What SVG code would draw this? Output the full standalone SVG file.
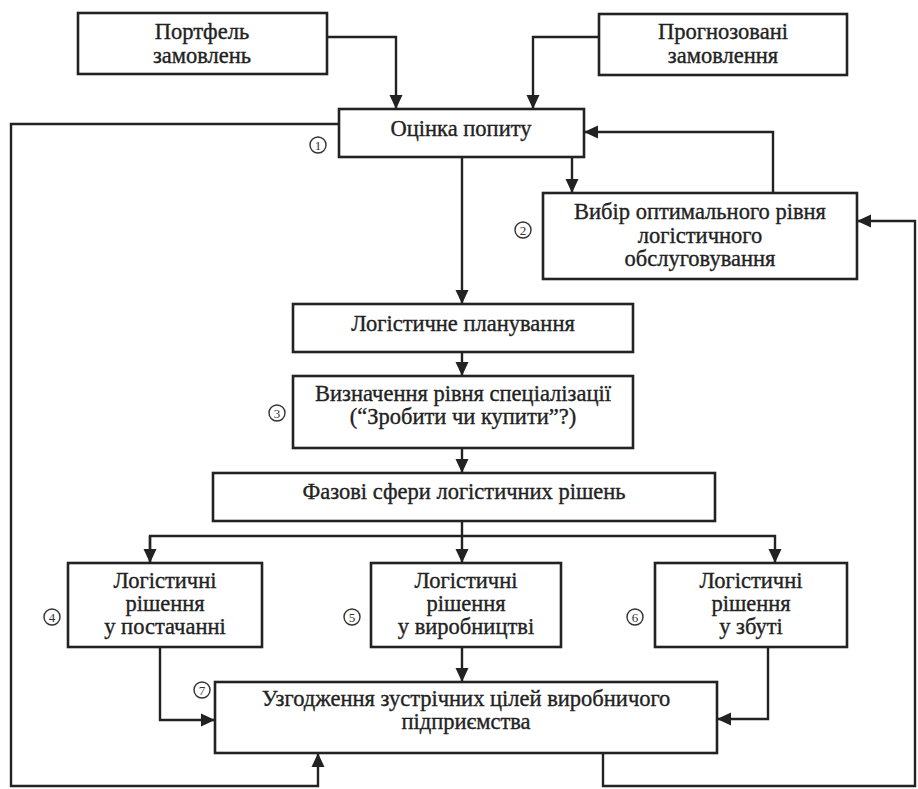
<svg xmlns="http://www.w3.org/2000/svg" width="918" height="789" viewBox="0 0 918 789">
<defs>
<style>
.box{fill:#fff;stroke:#222;stroke-width:2.6}
.t{font-family:"Liberation Serif","Times New Roman",serif;font-size:22.5px;fill:#222;stroke:#222;stroke-width:0.35;text-anchor:middle}
.c{fill:none;stroke:#222;stroke-width:2.4}
.n circle{fill:none;stroke:#333;stroke-width:1.4}
.n text{font-family:"Liberation Serif",serif;font-size:13px;fill:#333;text-anchor:middle}
</style>
<marker id="a" viewBox="0 0 14 14" refX="13" refY="7" markerWidth="14" markerHeight="14" markerUnits="userSpaceOnUse" orient="auto">
<path d="M0,0.5 L14,7 L0,13.5 Z" fill="#222"/>
</marker>
</defs>
<rect width="918" height="789" fill="#fff"/>
<g id="connectors">
<path class="c" d="M327,37 H396 V108" marker-end="url(#a)"/>
<path class="c" d="M599,37 H533 V108" marker-end="url(#a)"/>
<path class="c" d="M572,157 V192" marker-end="url(#a)"/>
<path class="c" d="M773,193 V132 H585" marker-end="url(#a)"/>
<path class="c" d="M462,157 V303" marker-end="url(#a)"/>
<path class="c" d="M462,352 V375" marker-end="url(#a)"/>
<path class="c" d="M462,448 V472" marker-end="url(#a)"/>
<path class="c" d="M462,521 V536"/>
<path class="c" d="M150,562 V536 H775 V562" marker-end="url(#a)"/>
<path class="c" d="M150,536 V562" marker-end="url(#a)"/>
<path class="c" d="M462,536 V562" marker-end="url(#a)"/>
<path class="c" d="M160,647 V720 H214" marker-end="url(#a)"/>
<path class="c" d="M462,647 V681" marker-end="url(#a)"/>
<path class="c" d="M768,647 V719 H718" marker-end="url(#a)"/>
<path class="c" d="M339,124 H11 V786 H318 V754" marker-end="url(#a)"/>
<path class="c" d="M603,753 V786 H915 V221 H858" marker-end="url(#a)"/>
</g>
<g id="n-portfolio"><rect class="box" x="78" y="13" width="249" height="61"/><text class="t" x="202" y="39">Портфель</text><text class="t" x="202" y="63">замовлень</text></g>
<g id="n-forecast"><rect class="box" x="599" y="14" width="248" height="61"/><text class="t" x="723" y="39">Прогнозовані</text><text class="t" x="723" y="63">замовлення</text></g>
<g id="n-demand"><rect class="box" x="339" y="109" width="245" height="48"/><text class="t" x="461" y="136">Оцінка попиту</text></g>
<g id="n-service"><rect class="box" x="543" y="193" width="314" height="86"/><text class="t" x="700" y="219">Вибір оптимального рівня</text><text class="t" x="700" y="243">логістичного</text><text class="t" x="700" y="266">обслуговування</text></g>
<g id="n-planning"><rect class="box" x="293" y="304" width="340" height="48"/><text class="t" x="463" y="331">Логістичне планування</text></g>
<g id="n-special"><rect class="box" x="293" y="376" width="340" height="72"/><text class="t" x="463" y="401">Визначення рівня спеціалізації</text><text class="t" x="463" y="424">(“Зробити чи купити”?)</text></g>
<g id="n-phase"><rect class="box" x="213" y="473" width="502" height="48"/><text class="t" x="464" y="499">Фазові сфери логістичних рішень</text></g>
<g id="n-supply"><rect class="box" x="68" y="563" width="194" height="84"/><text class="t" x="165" y="588">Логістичні</text><text class="t" x="165" y="611">рішення</text><text class="t" x="165" y="634">у постачанні</text></g>
<g id="n-production"><rect class="box" x="371" y="563" width="190" height="84"/><text class="t" x="466" y="588">Логістичні</text><text class="t" x="466" y="611">рішення</text><text class="t" x="466" y="634">у виробництві</text></g>
<g id="n-sales"><rect class="box" x="655" y="563" width="192" height="84"/><text class="t" x="751" y="588">Логістичні</text><text class="t" x="751" y="611">рішення</text><text class="t" x="751" y="634">у збуті</text></g>
<g id="n-coord"><rect class="box" x="215" y="682" width="502" height="71"/><text class="t" x="466" y="706">Узгодження зустрічних цілей виробничого</text><text class="t" x="466" y="729">підприємства</text></g>
<g id="labels">
<g class="n"><circle cx="318" cy="145" r="8"/><text x="318" y="149.5">1</text></g>
<g class="n"><circle cx="523" cy="230" r="8"/><text x="523" y="234.5">2</text></g>
<g class="n"><circle cx="277" cy="413" r="8"/><text x="277" y="417.5">3</text></g>
<g class="n"><circle cx="52" cy="617" r="8"/><text x="52" y="621.5">4</text></g>
<g class="n"><circle cx="352" cy="617" r="8"/><text x="352" y="621.5">5</text></g>
<g class="n"><circle cx="635" cy="617" r="8"/><text x="635" y="621.5">6</text></g>
<g class="n"><circle cx="202" cy="690" r="8"/><text x="202" y="694.5">7</text></g>
</g>
</svg>
